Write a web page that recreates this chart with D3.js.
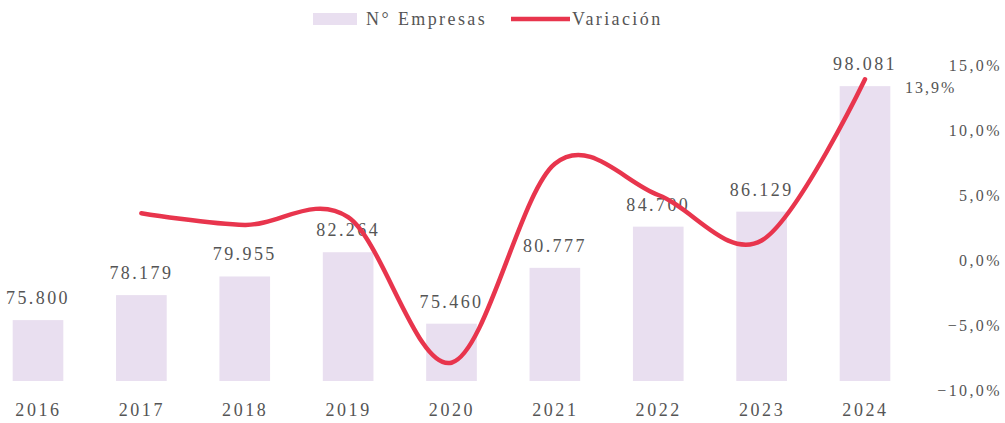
<!DOCTYPE html>
<html><head><meta charset="utf-8">
<script src="https://cdn.jsdelivr.net/npm/d3@7"></script>
<style>body{margin:0;background:#fff}svg{display:block}</style>
</head><body><svg id="c" width="1005" height="423"></svg>
<script>
const years = ["2016","2017","2018","2019","2020","2021","2022","2023","2024"];
const empresas = [75800,78179,79955,82264,75460,80777,84700,86129,98081];
const variacion = [null,3.6,2.7,3.3,-7.9,7.4,5.0,1.5,13.9];
const pctTicks = [-10,-5,0,5,10,15];
const seriesNames = ["N° Empresas","Variación"];

const FONT = "Liberation Serif";
const TXT = "#555";
const svg = d3.select("#c").attr("font-family",FONT);
const x = d3.scalePoint().domain(years).range([38,865]);
const bw = x.step()*0.49;
const yL = d3.scaleLinear().domain([70000,100000]).range([381,66]);
const yR = d3.scaleLinear().domain([-10,15]).range([390,65]);
const fmtN = d3.formatLocale({decimal:",",thousands:".",grouping:[3],currency:["",""]}).format(",d");
const fmtP = v => d3.format(".1f")(v).replace(".",",")+"%";

// bars
svg.append("g").selectAll("rect").data(years).join("rect")
  .attr("x",d=>x(d)-bw/2).attr("width",bw)
  .attr("y",(d,i)=>yL(empresas[i])).attr("height",(d,i)=>yL.range()[0]-yL(empresas[i]))
  .attr("fill","#e9dff0");

// bar labels
svg.append("g").selectAll("text").data(years).join("text")
  .attr("x",d=>x(d)).attr("y",(d,i)=>yL(empresas[i])-16)
  .attr("text-anchor","middle").attr("font-size",18).attr("letter-spacing",2.4)
  .attr("font-family",FONT).attr("fill",TXT)
  .text((d,i)=>fmtN(empresas[i]));

// x axis labels
const xa = svg.append("g").attr("transform","translate(0,381)").call(d3.axisBottom(x).tickSize(0).tickPadding(0));
xa.attr("font-family",FONT);
xa.select(".domain").remove();
xa.selectAll("text").attr("dy",null).attr("y",35).attr("font-size",18).attr("letter-spacing",2.6)
  .attr("font-family",FONT).attr("fill",TXT);

// right axis
const ya = svg.append("g").attr("transform","translate(1002,0)").call(d3.axisRight(yR).tickValues(pctTicks).tickSize(0).tickPadding(0).tickFormat(fmtP));
ya.attr("font-family",FONT);
ya.select(".domain").remove();
ya.selectAll("text").attr("text-anchor","end").attr("x",0).attr("dy","0.35em").attr("font-size",16).attr("letter-spacing",2.4)
  .attr("font-family",FONT).attr("fill",TXT);

// line
const pts = years.map((d,i)=>[x(d), variacion[i]]).filter(p=>p[1]!==null);
const line = d3.line().x(p=>p[0]).y(p=>yR(p[1])).curve(d3.curveCardinal.tension(0));
svg.append("path").datum(pts).attr("d",line).attr("fill","none").attr("stroke","#e8354d").attr("stroke-width",4.5).attr("stroke-linecap","round");

// last line label
const last = pts[pts.length-1];
svg.append("text").attr("x",last[0]+40).attr("y",yR(last[1])+14).attr("font-size",16).attr("letter-spacing",2)
  .attr("font-family",FONT).attr("fill",TXT).text(fmtP(last[1]));

// legend
const lg = svg.append("g");
lg.append("rect").attr("x",313).attr("y",13).attr("width",44).attr("height",12).attr("fill","#e9dff0");
lg.append("text").attr("x",366).attr("y",25).attr("font-size",18).attr("letter-spacing",2.4).attr("font-family",FONT).attr("fill",TXT).text(seriesNames[0]);
lg.append("line").attr("x1",511).attr("x2",570).attr("y1",19).attr("y2",19).attr("stroke","#e8354d").attr("stroke-width",4.5);
lg.append("text").attr("x",572).attr("y",25).attr("font-size",18).attr("letter-spacing",2.4).attr("font-family",FONT).attr("fill",TXT).text(seriesNames[1]);
</script></body></html>
